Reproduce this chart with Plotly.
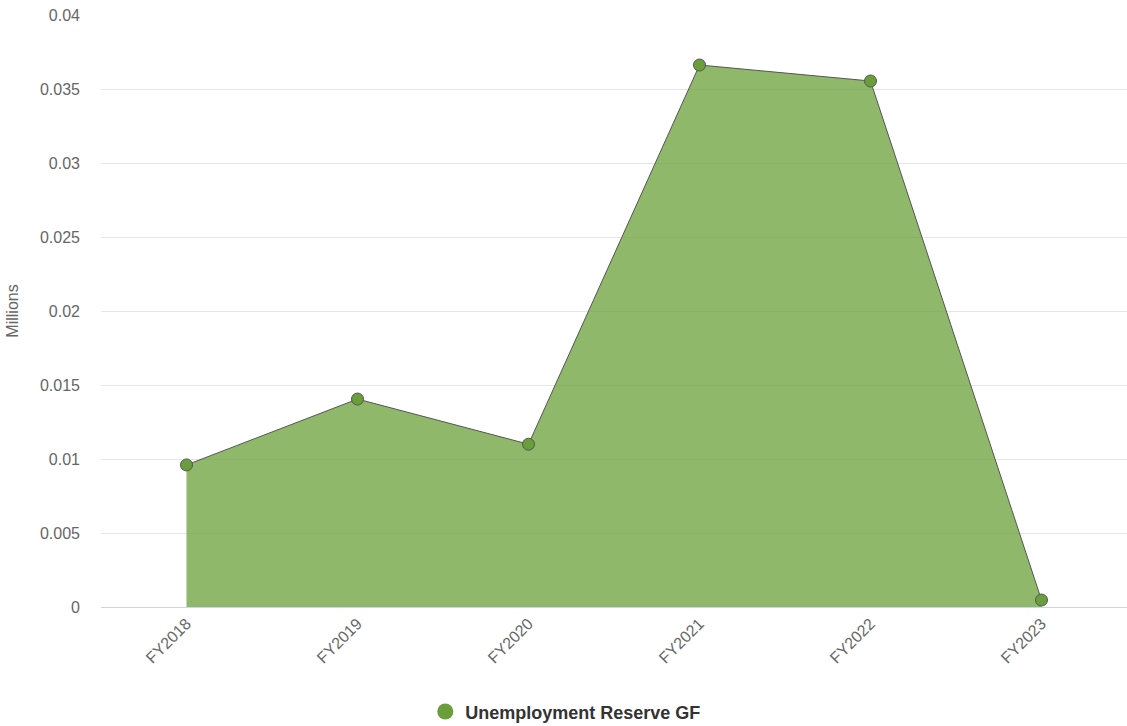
import plotly.graph_objects as go

categories = ["FY2018", "FY2019", "FY2020", "FY2021", "FY2022", "FY2023"]
values = [0.0096, 0.01405, 0.0110, 0.03662, 0.03554, 0.00047]
series_name = "Unemployment Reserve GF"
y_ticks = [0, 0.005, 0.01, 0.015, 0.02, 0.025, 0.03, 0.035, 0.04]
y_tick_text = ["0", "0.005", "0.01", "0.015", "0.02", "0.025", "0.03", "0.035", "0.04"]

fig = go.Figure()
fig.add_trace(go.Scatter(
    x=categories, y=values, name=series_name,
    mode="lines+markers", fill="tozeroy",
    fillcolor="rgba(106,160,58,0.75)",
    line=dict(color="#555555", width=1),
    marker=dict(size=12, color="#6a9e3a", line=dict(color="#555555", width=1)),
    showlegend=False,
))
# legend-only entry (circle symbol, as in the reference legend)
fig.add_trace(go.Scatter(
    x=[None], y=[None], name="<b>" + series_name + "</b>", mode="markers",
    marker=dict(size=17, color="#6a9e3a"), showlegend=True,
))

font = "Liberation Sans, Arial, sans-serif"
fig.update_layout(
    width=1127, height=726,
    margin=dict(l=101, r=0, t=15, b=119, autoexpand=False),
    paper_bgcolor="white", plot_bgcolor="white",
    font=dict(family=font, color="#666666", size=16),
    showlegend=True,
    legend=dict(orientation="h", x=0.453, xanchor="center",
                y=-0.177, yanchor="middle",
                font=dict(size=18, color="#333333", family=font)),
    xaxis=dict(type="category", range=[-0.5, 5.5], tickangle=-45,
               showgrid=False, showline=True, linecolor="#ccd6eb", linewidth=1,
               ticks="", tickfont=dict(size=16, color="#666666"), zeroline=False,
               automargin=False),
    yaxis=dict(range=[0, 0.04], tickvals=y_ticks, ticktext=y_tick_text,
               showgrid=True, gridcolor="#e6e6e6", zeroline=False, automargin=False,
               title=dict(text="Millions", font=dict(size=16, color="#666666"), standoff=17),
               tickfont=dict(size=16, color="#666666"), ticklabelstandoff=20),
)
fig.write_html("out.html", config={"displayModeBar": False},
               post_script="document.body.style.margin='0px';document.body.style.overflow='hidden';")
